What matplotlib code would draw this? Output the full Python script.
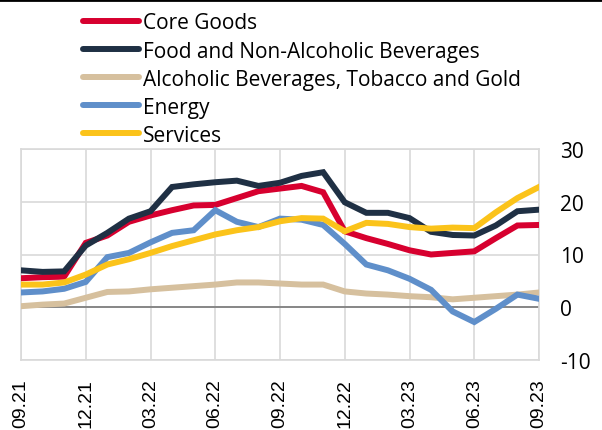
import numpy as np
import matplotlib.pyplot as plt
from matplotlib.lines import Line2D

plt.rcParams['axes.unicode_minus'] = False

# monthly, 09.21 .. 09.23
months = ['09.21', '10.21', '11.21', '12.21', '01.22', '02.22', '03.22', '04.22', '05.22',
          '06.22', '07.22', '08.22', '09.22', '10.22', '11.22', '12.22', '01.23', '02.23',
          '03.23', '04.23', '05.23', '06.23', '07.23', '08.23', '09.23']

core_goods = [5.5, 5.7, 5.8, 12.2, 13.6, 16.2, 17.4, 18.4, 19.3, 19.4, 20.7, 22.0, 22.5,
              23.0, 21.8, 14.4, 13.1, 12.0, 10.8, 10.0, 10.3, 10.6, 13.1, 15.5, 15.6]
food = [7.0, 6.7, 6.8, 11.7, 14.1, 16.8, 18.2, 22.8, 23.3, 23.7, 24.0, 23.0, 23.6,
        24.9, 25.6, 19.9, 17.9, 17.9, 16.9, 14.3, 13.7, 13.6, 15.5, 18.2, 18.5]
alcohol = [0.2, 0.5, 0.7, 1.8, 2.9, 3.0, 3.4, 3.7, 4.0, 4.3, 4.7, 4.7, 4.5,
           4.3, 4.3, 3.0, 2.6, 2.4, 2.1, 1.9, 1.5, 1.8, 2.1, 2.4, 2.8]
energy = [2.8, 3.0, 3.5, 4.8, 9.5, 10.3, 12.3, 14.1, 14.6, 18.4, 16.2, 15.2, 16.8,
          16.6, 15.6, 12.0, 8.1, 7.0, 5.4, 3.3, -0.8, -2.8, -0.3, 2.4, 1.6]
services = [4.3, 4.3, 4.7, 6.2, 8.1, 9.1, 10.3, 11.6, 12.7, 13.8, 14.6, 15.2, 16.3,
            16.9, 16.8, 14.4, 16.0, 15.8, 15.2, 14.9, 15.1, 15.0, 18.0, 20.7, 22.8]

labels = ['Core Goods', 'Food and Non-Alcoholic Beverages',
          'Alcoholic Beverages, Tobacco and Gold', 'Energy', 'Services']
colors = ['#d7002f', '#1f3044', '#d6c09e', '#5f8fca', '#fbc31a']
series = [core_goods, food, alcohol, energy, services]

fig = plt.figure(figsize=(6.02, 4.31), dpi=100)
ax = fig.add_axes([21/602, 1 - 361/431, (539 - 21)/602, (361 - 150)/431])

x = np.arange(len(months))
for vals, lab, col in zip(series, labels, colors):
    ax.plot(x, vals, color=col, lw=4.3, label=lab, solid_joinstyle='miter', zorder=3)

ax.axhline(0, color='#808080', lw=1.3, zorder=2)

ax.set_xlim(0, len(months) - 1)
ax.set_ylim(-10, 30)
ax.set_yticks([-10, 0, 10, 20, 30])
ax.yaxis.tick_right()
ax.tick_params(axis='y', length=0, pad=15, labelsize=15)
for t in ax.get_yticklabels():
    t.set_fontfamily('Open Sans')

ax.set_xticks(x[::3])
ax.set_xticklabels(months[::3], rotation=90, fontsize=14, family='Liberation Sans')
ax.tick_params(axis='x', length=0, pad=13)

ax.grid(True, color='#d9d9d9', lw=1.2, zorder=1)
for s in ax.spines.values():
    s.set_color('#d9d9d9')
    s.set_linewidth(1.2)

leg = fig.legend(loc='upper left', bbox_to_anchor=(73/602, 1 - 3/431), frameon=False,
                 borderpad=0, handlelength=2.67, handletextpad=0.21, labelspacing=0.34,
                 prop={'family': 'Open Sans', 'size': 15})
for h in leg.get_lines():
    h.set_linewidth(4.3)
    h.set_solid_capstyle('round')

fig.add_artist(Line2D([0, 1], [1 - 1/431, 1 - 1/431], color='black', lw=2))

fig.savefig('out.png', dpi=100)
